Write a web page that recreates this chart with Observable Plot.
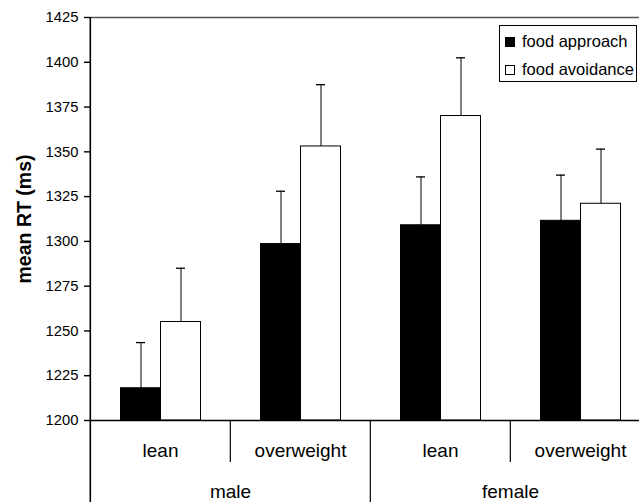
<!DOCTYPE html>
<html><head><meta charset="utf-8">
<script src="https://cdn.jsdelivr.net/npm/d3@7"></script>
<script src="https://cdn.jsdelivr.net/npm/@observablehq/plot@0.6"></script>
<style>
body{margin:0;background:#fff;}
#wrap{position:relative;width:639px;height:502px;overflow:hidden;font-family:"Liberation Sans",Arial,sans-serif;}
#legend{position:absolute;left:499px;top:25px;width:136px;height:55px;border:1px solid #000;background:#fff;}
.row{position:absolute;left:0;height:20px;line-height:20px;font-size:16.5px;white-space:nowrap;color:#000;}
.sw{position:absolute;left:5px;top:5.5px;width:10px;height:10px;box-sizing:border-box;border:1px solid #000;}
.lbl{position:absolute;left:22px;top:0;}
</style></head><body>
<div id="wrap"><div id="chart"></div><div id="legend"></div></div>
<script>
// ---- data ----
const sexes = ["male", "female"];
const weights = ["lean", "overweight"];
const conditions = ["food approach", "food avoidance"];
const approachMean  = [1218, 1298.5, 1309, 1311.5];
const approachUpper = [1243.5, 1328, 1336, 1337];
const avoidanceMean  = [1255, 1353, 1370, 1321];
const avoidanceUpper = [1285, 1387.5, 1402.5, 1351.5];
const yTicks = [1200, 1225, 1250, 1275, 1300, 1325, 1350, 1375, 1400, 1425];

// ---- derived tables ----
const keys = sexes.flatMap(s => weights.map(w => s + "|" + w));
const rows = keys.flatMap((k, i) => [
  {key: k, cond: conditions[0], mean: approachMean[i], upper: approachUpper[i]},
  {key: k, cond: conditions[1], mean: avoidanceMean[i], upper: avoidanceUpper[i]}
]);
const sexLabels = sexes.map(s => ({key: s + "|" + weights[0], sex: s}));
const yMin = yTicks[0], yMax = yTicks[yTicks.length - 1];

// ---- layout (style) ----
const W = 639, H = 502, mL = 89.5, mT = 17, mB = 82, fxRight = 651;
const bandW = (fxRight - mL) / keys.length;
const fills = ["#000", "#fff"];

const axisLine = [{key: keys[0]}];
const sexSep = sexes.slice(1).map(s => ({key: s + "|" + weights[0]}));
const weightSep = sexes.map(s => ({key: s + "|" + weights[1]}));

const chart = Plot.plot({
  width: W, height: H,
  marginLeft: mL, marginTop: mT, marginBottom: mB, marginRight: W - fxRight,
  style: {fontFamily: "Liberation Sans, Arial, sans-serif", fontSize: "14.8px", color: "#000", background: "#fff"},
  fx: {domain: keys, padding: 0, range: [mL, fxRight]},
  x: {domain: conditions, paddingInner: 0, paddingOuter: 0.75, axis: null},
  y: {domain: [yMin, yMax]},
  color: {domain: conditions, range: fills},
  marks: [
    Plot.ruleY([yMax], {stroke: "#555", strokeWidth: 1.5}),
    Plot.barY(rows, {fx: "key", x: "cond", y1: yMin, y2: "mean", fill: "cond", stroke: "#000", strokeWidth: 1}),
    Plot.ruleX(rows, {fx: "key", x: "cond", y1: "mean", y2: "upper", stroke: "#000", strokeWidth: 1}),
    Plot.tickY(rows, {fx: "key", x: "cond", y: "upper", insetLeft: 15.5, insetRight: 15.5, stroke: "#000", strokeWidth: 1.3}),
    Plot.ruleY([yMin], {stroke: "#000", strokeWidth: 1.6}),
    Plot.ruleX(axisLine, {fx: "key", x: null, y1: yMax, y2: yMin, insetBottom: -mB, dx: -bandW / 2, stroke: "#000", strokeWidth: 1.6}),
    Plot.ruleX(sexSep, {fx: "key", x: null, y1: yMin, y2: yMin, insetBottom: -mB, dx: -bandW / 2, stroke: "#000", strokeWidth: 1.2}),
    Plot.ruleX(weightSep, {fx: "key", x: null, y1: yMin, y2: yMin, insetBottom: -42, dx: -bandW / 2, stroke: "#000", strokeWidth: 1.2}),
    Plot.axisY({ticks: yTicks, tickFormat: d => String(d), tickSize: 6, tickPadding: 6, fontSize: 14.8, label: null, strokeWidth: 1.4}),
    Plot.axisY({ticks: [], label: "mean RT (ms)", labelAnchor: "center", labelArrow: "none", labelOffset: 73, fontSize: 19.5, fontWeight: "bold"}),
    Plot.axisFx({anchor: "bottom", tickSize: 0, tickPadding: 23, fontSize: 19, label: null, tickFormat: k => k.split("|")[1]}),
    Plot.text(sexLabels, {fx: "key", text: "sex", frameAnchor: "bottom-right", textAnchor: "middle", lineAnchor: "top", dy: 64, fontSize: 19})
  ]
});
document.getElementById("chart").appendChild(chart);

// ---- legend ----
const leg = document.getElementById("legend");
conditions.forEach((c, i) => {
  const row = document.createElement("div");
  row.className = "row";
  row.style.top = (5 + i * 28.3) + "px";
  row.style.width = "136px";
  const sw = document.createElement("span");
  sw.className = "sw";
  sw.style.background = fills[i];
  const lb = document.createElement("span");
  lb.className = "lbl";
  lb.textContent = c;
  row.appendChild(sw); row.appendChild(lb);
  leg.appendChild(row);
});
</script>
</body></html>
